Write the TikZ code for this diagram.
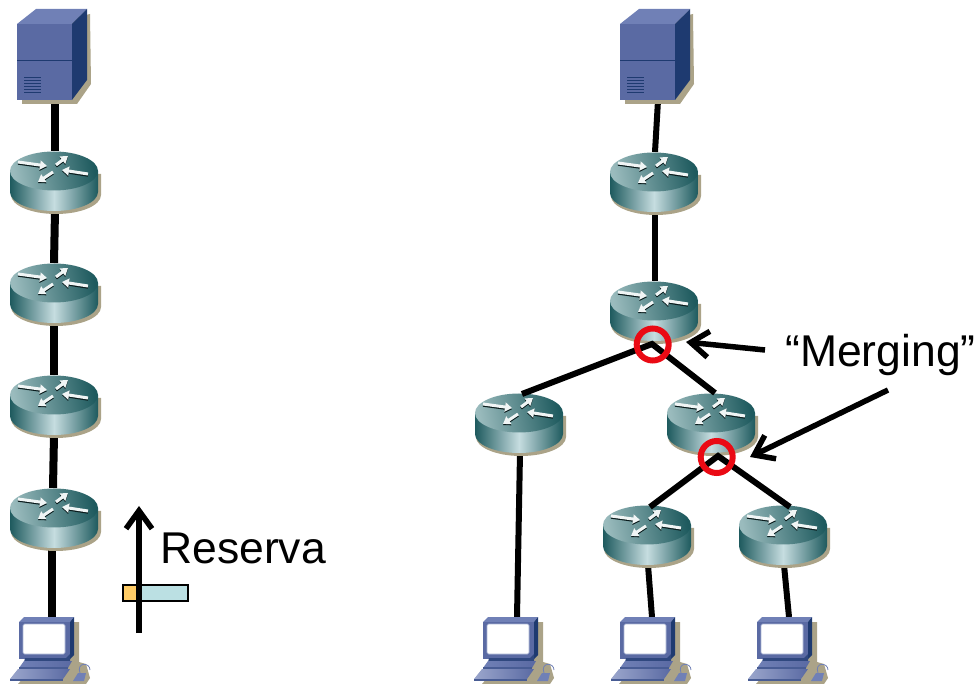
\documentclass[tikz,border=0pt]{standalone}
\usepackage{fontspec}
\setmainfont{Liberation Sans}
\usetikzlibrary{arrows.meta}
\definecolor{shad}{HTML}{ABA388}
\definecolor{rdark}{HTML}{1E5A5E}
\definecolor{rmid}{HTML}{3F7B80}
\definecolor{rlight}{HTML}{C6DDE0}
\definecolor{rtop}{HTML}{9ABBBD}
\definecolor{sfront}{HTML}{5A6AA3}
\definecolor{stop}{HTML}{7080B6}
\definecolor{sside}{HTML}{1E3A70}
\definecolor{boxblue}{HTML}{BBE0E3}
\definecolor{boxor}{HTML}{FFCC66}
\definecolor{ringred}{HTML}{EA0A14}
\tikzset{
  x=1pt,y=-1pt,
  devbox/.style={inner sep=0pt,outer sep=0pt,minimum width=88pt,minimum height=60pt},
  srvbox/.style={inner sep=0pt,outer sep=0pt,minimum width=70pt,minimum height=91pt},
  pcbox/.style={inner sep=0pt,outer sep=0pt,minimum width=60pt,minimum height=66pt},
  link/.style={draw=black,line width=6pt,miter limit=10},
  thicklink/.style={draw=black,line width=8pt},
  callout/.style={draw=black,line width=5.5pt,-{Straight Barb[length=18pt,width=26pt,line width=5.5pt]}},
  ring/.style={draw=ringred,line width=6pt,circle,minimum size=32pt,inner sep=0pt},
  lbl/.style={font=\fontsize{44.5}{50}\selectfont,inner sep=0pt,anchor=base west},
  routerpic/.pic={
    \fill[shad] (-44,-7) -- (-44,14) arc[start angle=180,end angle=360,x radius=45pt,y radius=19pt] -- (46,-7) -- cycle;
    \shade[left color=rdark,right color=rdark,middle color=rlight,shading angle=90]
      (-45,-10) -- (-45,11) arc[start angle=180,end angle=360,x radius=44pt,y radius=19pt] -- (43,-10) -- cycle;
    \shade[left color=rtop,right color=rdark,shading angle=100] (-1,-10) ellipse [x radius=44pt,y radius=19.5pt];
    \foreach \a/\b/\c/\d in {-37/-19/-8/-15, 1/-16/13/-25, 33/-7/7/-11, -2/-9/-17/1}{
      \draw[black!70!rdark,line width=3pt,-{Triangle[length=7pt,width=9pt]}] (\a,\b+1.2) -- (\c,\d+1.2);
      \draw[white!92!rmid,line width=3pt,-{Triangle[length=7pt,width=9pt]}] (\a,\b) -- (\c,\d);
    }
  },
  serverpic/.pic={
    \fill[shad] (22,30) -- (90,14) -- (91,84) -- (77,104) -- (22,104) -- cycle;
    \fill[sfront] (17,24) rectangle (72,100);
    \fill[stop] (17,24) -- (36,9) -- (87,9) -- (72,24) -- cycle;
    \fill[sside] (72,24) -- (87,9) -- (87,80) -- (72,100) -- cycle;
    \draw[sside,line width=.8pt] (17,60) -- (72,60);
    \foreach \v in {77.5,80.5,83.5,86.5,89.5,92.5}
      \draw[sside,line width=.8pt] (24,\v) -- (41,\v);
  },
  pcpic/.pic={
    \fill[shad] (30,622) -- (79,622) -- (79,662) -- (86,664) -- (90,678) -- (86,684) -- (18,684) -- (30,670) -- cycle;
    \fill[stop] (19,622) -- (24,617) -- (74,617) -- (70,622) -- cycle;
    \fill[sside] (70,622) -- (74,617) -- (74,655) -- (70,659) -- cycle;
    \fill[sfront] (19,622) rectangle (70,659);
    \fill[white,rounded corners=1.5pt,draw=stop!60!white,line width=.6pt] (23,624) rectangle (65,654);
    \fill[sside!70!sfront] (25,658) -- (66,658) -- (70,654) -- (70,662) -- (24,662) -- cycle;
    \shade[left color=stop,right color=sfront] (24,661) -- (72,661) -- (68,668) -- (19,668) -- cycle;
    \fill[sfront!70!sside] (19,667) -- (68,667) -- (68,669) -- (19,669) -- cycle;
    \shade[left color=stop!70!white,right color=sfront] (18,669) -- (70,669) -- (63,679) -- (10,679) -- cycle;
    \fill[sfront!70!sside] (10,679) -- (63,679) -- (63,681) -- (10,681) -- cycle;
    \fill[stop] (73,681) -- (78,673) -- (86,673) -- (84,681) -- cycle;
    \draw[stop,line width=.8pt] (80,673) .. controls (76,662) and (90,662) .. (90,670);
  }
}
\begin{document}
\begin{tikzpicture}
\useasboundingbox (0,0) rectangle (978,684);
% named device frames
\node[srvbox] (s1) at (55,55) {};
\node[devbox] (a1) at (55,181) {};
\node[devbox] (a2) at (55,293) {};
\node[devbox] (a3) at (55,405) {};
\node[devbox] (a4) at (55,518) {};
\node[pcbox]  (p1) at (52,650) {};
\node[srvbox] (s2) at (658,55) {};
\node[devbox] (b1) at (655,182) {};
\node[devbox] (b2) at (655,311) {};
\node[devbox] (b3) at (520,423) {};
\node[devbox] (b4) at (712,423) {};
\node[devbox] (b5) at (648,535) {};
\node[devbox] (b6) at (784,535) {};
\node[pcbox]  (p2) at (517,650) {};
\node[pcbox]  (p3) at (652,650) {};
\node[pcbox]  (p4) at (789,650) {};
\coordinate (m1) at (652,344);
\coordinate (m2) at (718,456);
\coordinate (e3) at (522,394);
\coordinate (e4) at (715,393);
\coordinate (e5) at (650,507);
\coordinate (e6) at (790,507);
% left chain links
\draw[thicklink] (s1.south) -- (a1.north);
\draw[thicklink] (a1.south) -- ([xshift=-1pt]a2.north);
\draw[thicklink] ([xshift=-1pt]a2.south) -- ([xshift=-1pt]a3.north);
\draw[thicklink] ([xshift=-1pt]a3.south) -- ([xshift=-2pt]a4.north);
\draw[thicklink] ([xshift=-3pt]a4.south) -- (p1.north);
% right tree links behind devices
\draw[link] (s2.south) -- (b1.north);
\draw[link] (b1.south) -- (b2.north);
\draw[link] (b3.south) -- (p2.north);
\draw[link] (b5.south) -- (p3.north);
\draw[link] (b6.south) -- (p4.north);
% devices
\pic at (0,0) {serverpic};
\pic at (603,0) {serverpic};
\foreach \n in {a1,a2,a3,a4,b1,b2,b3,b4,b5,b6} \pic at (\n) {routerpic};
\pic at (0,0) {pcpic};
\pic at (464,0) {pcpic};
\pic at (601,0) {pcpic};
\pic at (738,0) {pcpic};
% merges
\draw[link] (e3) -- (m1) -- (e4);
\draw[link] (e5) -- (m2) -- (e6);
\node[ring] (r1) at (652.7,344.5) {};
\node[ring] (r2) at (716.7,457) {};
% callouts
\coordinate (c1s) at (765,350);
\coordinate (c1e) at (686,342);
\coordinate (c2s) at (888,390);
\coordinate (c2e) at (750,457);
\draw[callout] (c1s) -- (c1e);
\draw[callout] (c2s) -- (c2e);
\node[lbl] (merging) at (785,367) {“Merging”};
% reservation
\node[draw=black,line width=2pt,fill=boxblue,inner sep=0pt,minimum width=65pt,minimum height=16pt] (bar) at (155.5,593) {};
\node[draw=black,line width=2pt,fill=boxor,inner sep=0pt,minimum width=15pt,minimum height=16pt] (baror) at (130,593) {};
\coordinate (rs) at (139,633);
\coordinate (re) at (139,506);
\draw[callout] (rs) -- (re);
\node[lbl] (reserva) at (160,564) {Reserva};
\end{tikzpicture}
\end{document}
